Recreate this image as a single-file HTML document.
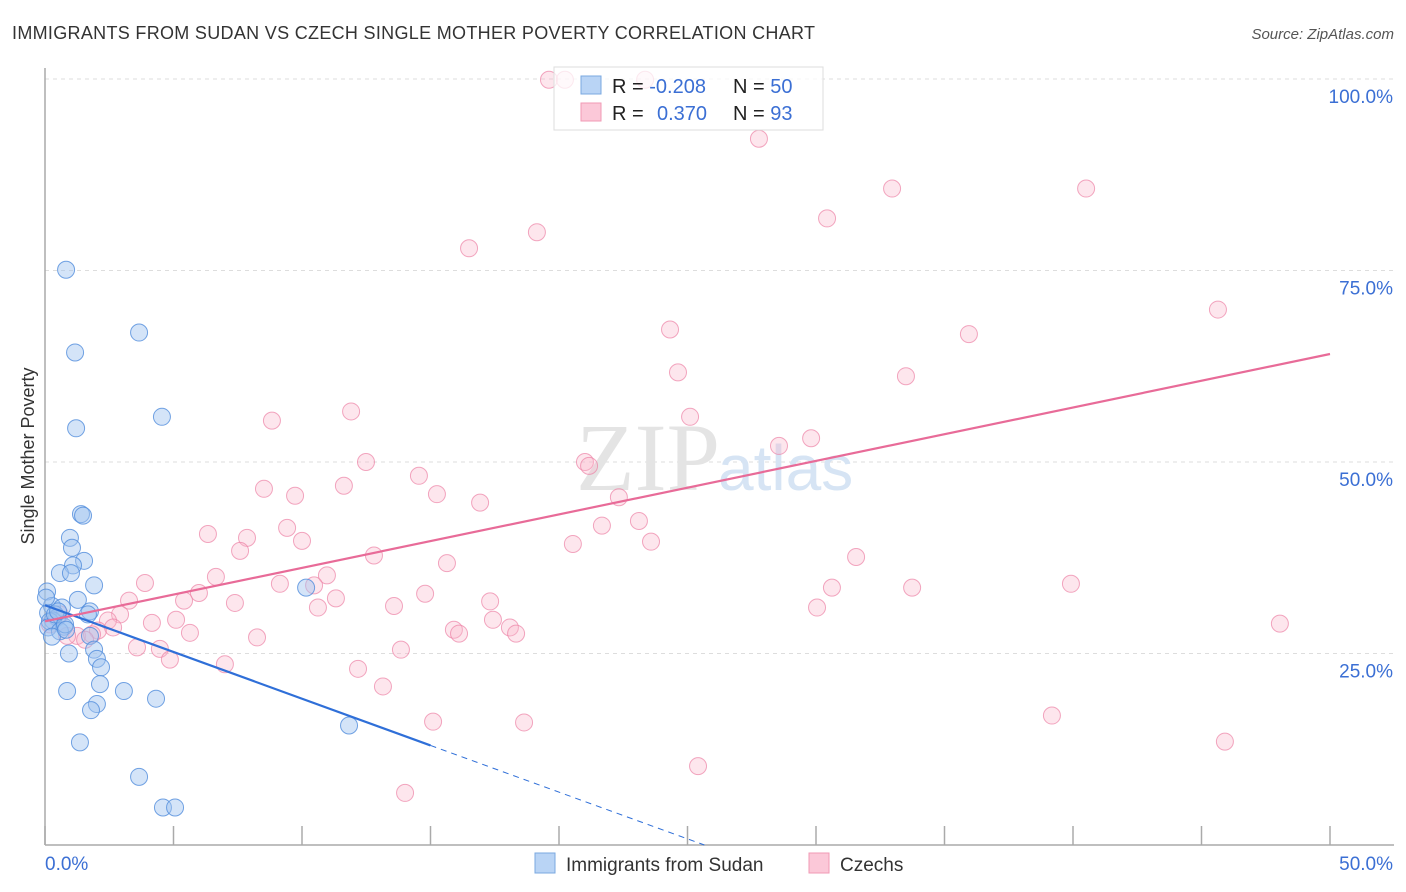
<!DOCTYPE html>
<html><head><meta charset="utf-8"><style>
body{margin:0;background:#fff;font-family:"Liberation Sans",sans-serif}
#wrap{position:relative;width:1406px;height:892px;overflow:hidden}
</style></head><body>
<div id="wrap">
<svg id="svg" width="1406" height="892" xmlns="http://www.w3.org/2000/svg">
<text x="12" y="39" font-size="18" fill="#333" textLength="803">IMMIGRANTS FROM SUDAN VS CZECH SINGLE MOTHER POVERTY CORRELATION CHART</text>
<text x="1394" y="39" font-size="15" fill="#555" font-style="italic" text-anchor="end">Source: ZipAtlas.com</text>
<text x="34" y="456" font-size="18" fill="#333" text-anchor="middle" transform="rotate(-90 34 456)">Single Mother Poverty</text>
<g id="grid"></g>
<text x="720" y="490" font-size="96" fill="#e4e4e4" font-family="Liberation Serif,serif" text-anchor="end">ZIP</text>
<text x="718" y="490" font-size="64" fill="#d6e4f4">atlas</text>
<g id="axes"></g>
<g id="pts"></g>
<g>
<rect x="554" y="67" width="269" height="63" fill="rgba(255,255,255,0.75)" stroke="#ddd"/>
<rect x="581" y="76" width="20" height="18" fill="#b9d4f5" stroke="#7aa8e0"/>
<rect x="581" y="103" width="20" height="18" fill="#fbc8d8" stroke="#f09ab5"/>
<text x="612" y="93" font-size="20" fill="#222">R = <tspan fill="#3b6fd4">-0.208</tspan></text>
<text x="733" y="93" font-size="20" fill="#222">N = <tspan fill="#3b6fd4">50</tspan></text>
<text x="612" y="120" font-size="20" fill="#222">R = <tspan fill="#3b6fd4" x="657">0.370</tspan></text>
<text x="733" y="120" font-size="20" fill="#222">N = <tspan fill="#3b6fd4">93</tspan></text>
</g>
<g id="lines"></g>
<g>
<rect x="535" y="853" width="20" height="20" fill="#b9d4f5" stroke="#7aa8e0"/>
<text x="566" y="871" font-size="19" fill="#333">Immigrants from Sudan</text>
<rect x="809" y="853" width="20" height="20" fill="#fbc8d8" stroke="#f09ab5"/>
<text x="840" y="871" font-size="19" fill="#333">Czechs</text>
</g>
</svg>
</div>
<script>
const blueX=[0.82,3.66,1.17,4.55,1.21,1.40,1.48,0.97,1.05,1.52,1.09,0.58,1.01,1.91,10.16,0.08,1.28,0.27,0.66,1.75,0.12,1.67,0.47,0.31,0.19,0.74,0.12,0.58,1.75,0.27,1.91,0.93,2.02,2.18,2.14,0.86,3.07,2.02,1.79,4.32,11.83,1.36,3.66,4.59,5.06,0.04,0.39,0.78,0.51,0.82];
const blueY=[75.1,66.9,64.3,55.9,54.4,43.2,43.0,40.1,38.8,37.1,36.5,35.5,35.5,33.9,33.6,33.1,32.0,31.2,31.0,30.5,30.3,30.1,29.7,29.3,29.2,28.5,28.4,27.9,27.3,27.2,25.5,25.0,24.3,23.2,21.0,20.1,20.1,18.4,17.6,19.1,15.6,13.4,8.9,4.9,4.9,32.3,30.1,28.8,30.5,28.1];
const pinkX=[19.61,20.23,23.35,27.78,32.96,40.51,30.43,19.14,16.50,45.64,24.32,35.95,24.63,33.50,11.91,25.10,8.83,29.81,28.56,12.49,21.01,21.17,14.55,8.52,11.63,15.25,9.73,16.93,22.33,9.42,6.34,7.86,23.11,21.67,20.54,23.58,10.00,7.59,12.80,31.56,15.64,6.65,10.97,3.89,9.14,10.47,39.92,30.62,33.74,5.99,14.79,11.32,5.41,7.39,3.27,17.32,13.58,10.62,30.04,2.92,5.10,17.43,2.45,4.16,15.91,16.11,18.09,18.33,2.06,2.65,5.64,8.25,1.25,1.83,1.56,3.58,4.47,13.85,4.86,7.00,12.18,13.15,48.05,39.18,15.10,18.64,45.91,25.41,14.01,0.58,0.86,0.19];
const pinkY=[99.9,99.9,99.9,92.2,85.7,85.7,81.8,80.0,77.9,69.9,67.3,66.7,61.7,61.2,56.6,55.9,55.4,53.1,52.1,50.0,50.0,49.5,48.2,46.5,46.9,45.8,45.6,44.7,45.4,41.4,40.6,40.1,42.3,41.7,39.3,39.6,39.7,38.4,37.8,37.6,36.8,35.0,35.2,34.2,34.1,33.9,34.1,33.6,33.6,32.9,32.8,32.2,31.9,31.6,31.9,31.8,31.2,31.0,31.0,30.1,29.4,29.4,29.3,29.0,28.1,27.6,28.4,27.6,28.0,28.4,27.7,27.1,27.3,27.5,26.8,25.8,25.6,25.5,24.2,23.6,23.0,20.7,28.9,16.9,16.1,16.0,13.5,10.3,6.8,30.1,27.3,28.8];
const blueTrend=[31.3,-1.22];   // intercept, slope per x%
const pinkTrend=[29.2,0.698];
const yTicks=[25,50,75,100];
const yTickLabels=["25.0%","50.0%","75.0%","100.0%"];
const xTicks=[0,5,10,15,20,25,30,35,40,45,50];

const NS="http://www.w3.org/2000/svg";
const sx=v=>45+v/50*1285;
const sy=v=>845-v/100*766;
function mk(parent,tag,attrs){const e=document.createElementNS(NS,tag);for(const k in attrs)e.setAttribute(k,attrs[k]);document.getElementById(parent).appendChild(e);return e;}

yTicks.forEach((t,i)=>{
  const l=mk('grid','line',{x1:45,x2:1394,y1:sy(t),y2:sy(t),stroke:'#ddd','stroke-dasharray':'4,4'});
  
  
  const tx=mk('grid','text',{x:1393,y:sy(t)+24,'font-size':19,fill:'#3b6fd4','text-anchor':'end'});
  tx.textContent=yTickLabels[i];
  
  
});
const ax=mk('axes','line',{x1:45,x2:1394,y1:845,y2:845,stroke:'#aaa','stroke-width':1.5});


const ay=mk('axes','line',{x1:45,x2:45,y1:68,y2:845,stroke:'#aaa','stroke-width':1.5});


xTicks.forEach(t=>{
  const l=mk('axes','line',{x1:sx(t),x2:sx(t),y1:826,y2:845,stroke:'#aaa','stroke-width':1.5});
  
  
});
const xl0=mk('axes','text',{x:45,y:870,'font-size':19,fill:'#3b6fd4'});xl0.textContent='0.0%';


const xl1=mk('axes','text',{x:1393,y:870,'font-size':19,fill:'#3b6fd4','text-anchor':'end'});xl1.textContent='50.0%';



pinkX.forEach((x,i)=>{
  const c=mk('pts','circle',{cx:sx(x),cy:sy(pinkY[i]),r:8.5,fill:'rgba(249,182,204,0.35)',stroke:'rgba(236,130,165,0.7)','stroke-width':1});
  
  
});
blueX.forEach((x,i)=>{
  const c=mk('pts','circle',{cx:sx(x),cy:sy(blueY[i]),r:8.5,fill:'rgba(160,196,240,0.45)',stroke:'rgba(80,140,220,0.8)','stroke-width':1});
  
  
});
const bl=mk('lines','line',{x1:sx(0),y1:sy(blueTrend[0]),x2:sx(15),y2:sy(blueTrend[0]+blueTrend[1]*15),stroke:'#2f6fd8','stroke-width':2.2});


const xz=-blueTrend[0]/blueTrend[1];
const bd=mk('lines','line',{x1:sx(15),y1:sy(blueTrend[0]+blueTrend[1]*15),x2:sx(xz),y2:sy(0),stroke:'#2f6fd8','stroke-width':1,'stroke-dasharray':'6,5'});


const pl=mk('lines','line',{x1:sx(0),y1:sy(pinkTrend[0]),x2:sx(50),y2:sy(pinkTrend[0]+pinkTrend[1]*50),stroke:'#e86b98','stroke-width':2.2});


</script>
</body></html>
